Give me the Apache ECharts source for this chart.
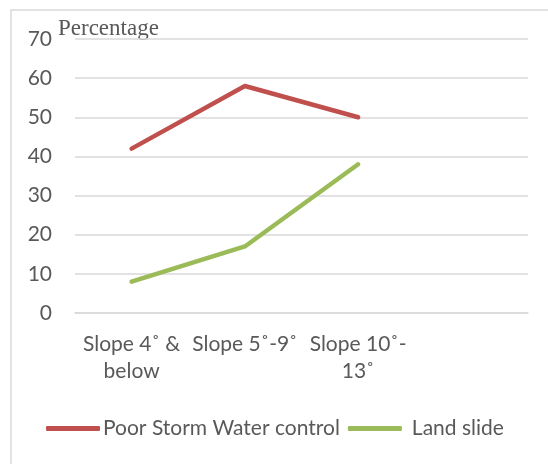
<!DOCTYPE html>
<html>
<head>
<meta charset="utf-8">
<script src="https://cdn.jsdelivr.net/npm/echarts@6/dist/echarts.min.js"></script>
<style>
html,body{margin:0;padding:0;background:#fff;}
#c{width:548px;height:464px;}
</style>
</head>
<body>
<div id="c"></div>
<script>
var categories = ['Slope 4˚ &\nbelow', 'Slope 5˚-9˚', 'Slope 10˚-\n13˚', ''];
var poorStormWater = [42, 58, 50, null];
var landSlide = [8, 17, 38, null];
var seriesNames = ['Poor Storm Water control', 'Land slide'];
var yTicks = {min: 0, max: 70, interval: 10};
var yTitle = 'Percentage';

var FONT = 'Lato';
var TXT = '#595959';
var chart = echarts.init(document.getElementById('c'), null, {renderer: 'canvas'});
chart.setOption({
  animation: false,
  backgroundColor: '#fff',
  graphic: [
    {type: 'rect', shape: {x: 11, y: 10, width: 700, height: 700},
     style: {fill: 'none', stroke: '#d9d9d9', lineWidth: 1.5}},
    {type: 'text', left: 58, top: 17,
     style: {text: yTitle, font: '23px "Liberation Serif"', fill: TXT}}
  ],
  grid: {left: 75, right: 20, top: 39, bottom: 151, containLabel: false},
  xAxis: {
    type: 'category', data: categories, boundaryGap: true,
    axisLine: {show: true, lineStyle: {color: '#d9d9d9', width: 1.5}},
    axisTick: {show: false},
    axisLabel: {color: TXT, fontFamily: FONT, fontSize: 21, lineHeight: 27, margin: 18, interval: 0}
  },
  yAxis: {
    type: 'value', min: yTicks.min, max: yTicks.max, interval: yTicks.interval,
    axisLine: {show: false}, axisTick: {show: false},
    axisLabel: {color: TXT, fontFamily: FONT, fontSize: 21, margin: 23},
    splitLine: {lineStyle: {color: '#d9d9d9', width: 1.5}}
  },
  legend: {
    left: 41, top: 413, itemWidth: 54, itemHeight: 5, itemGap: 8, icon: 'roundRect',
    textStyle: {color: TXT, fontFamily: FONT, fontSize: 21},
    data: [
      {name: seriesNames[0], textStyle: {padding: [0, 0, 0, -2]}},
      {name: seriesNames[1], textStyle: {padding: [0, 0, 0, 5]}}
    ]
  },
  series: [
    {name: seriesNames[0], type: 'line', data: poorStormWater, symbol: 'none',
     lineStyle: {color: '#C0504D', width: 4.5, cap: 'round', join: 'round'}, itemStyle: {color: '#C0504D'}},
    {name: seriesNames[1], type: 'line', data: landSlide, symbol: 'none',
     lineStyle: {color: '#9BBB59', width: 4.5, cap: 'round', join: 'round'}, itemStyle: {color: '#9BBB59'}}
  ]
});
</script>
</body>
</html>
